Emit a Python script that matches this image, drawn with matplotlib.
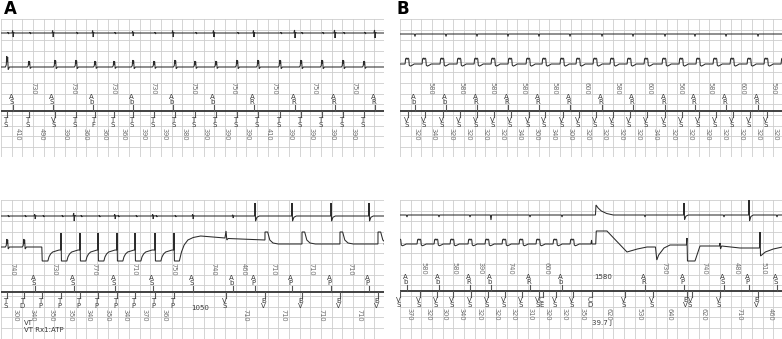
import numpy as np
import matplotlib
matplotlib.use('Agg')
import matplotlib.pyplot as plt

W, H = 782, 339
MS_PER_PX = 18.75          # paper speed of the strips
GRID_MS = 200
GRID_PX = 10.67

# ---------------- Panel A, upper strip (VT, 2:1) ----------------
a1_atrial_t = [225, 975, 1725, 2475, 3225, 3990, 4740, 5510, 6260, 7010]
a1_atrial_lab = ['AS', 'AS', 'Ab', 'Ab', 'Ab', 'Ab', 'AR', 'AR', 'AR', 'AR']
a1_atrial_int = ['730', '730', '730', '730', '750', '750', '750', '750', '750']
a1_atrial_amp = [4, 4, 4, 3, 4, 4, 4, 5, 5, 5]
a1_vent_t = [113, 525, 1013, 1406, 1763, 2119, 2475, 2869, 3263, 3638, 4031,
             4425, 4819, 5231, 5625, 6019, 6413, 6806]
a1_vent_lab = ['TS', 'TS', 'VS', 'TS', 'TF', 'TS', 'TS', 'TS', 'TS', 'TS', 'TS',
               'TS', 'TS', 'TS', 'TS', 'TS', 'TS', 'TS']
a1_vent_int = ['410', '490', '390', '360', '360', '360', '390', '390', '380',
               '390', '390', '390', '410', '390', '390', '390', '390']
a1_vent_amp = [11, 6, 7, 7, 6, 6, 7, 6, 7, 6, 6, 7, 7, 7, 7, 7, 7, 6]

# ---------------- Panel A, lower strip (ATP) ----------------
a2_atrial_t = [-200, 638, 1369, 2138, 2850, 3600, 4350, 4763, 5456, 6188, 6900]
a2_atrial_lab = ['AS', 'AS', 'AS', 'AS', 'AS', 'AS', 'Ab', 'AP', 'AP', 'AP', 'AP']
a2_atrial_int = ['740', '730', '770', '710', '750', '740', '460', '710', '710', '710']
a2_atrial_amp = [3, 3, 5, 3, 3, 3, 2, 13, 13, 13, 13]
a2_vent_t = [113, 431, 769, 1125, 1481, 1819, 2175, 2513, 2888, 3244,
             4219, 4950, 5644, 6356, 7069]
a2_vent_lab = ['TS', 'TD', 'TP', 'TP', 'TP', 'TP', 'TP', 'TP', 'TP', 'TP',
               'VS', 'BV', 'BV', 'BV', 'BV']
a2_vent_int = ['300', '340', '350', '350', '340', '350', '340', '370', '360',
               '1050', '710', '710', '710', '710']

# ---------------- Panel B, upper strip ----------------
b1_atrial_t = [281, 863, 1444, 2025, 2606, 3188, 3788, 4369, 4969, 5531, 6113,
               6713, 7300]
b1_atrial_lab = ['Ab', 'Ab', 'AR', 'AR', 'AR', 'AR', 'AR', 'AR', 'AR', 'AR', 'AR',
                 'AR', 'AR']
b1_atrial_int = ['580', '580', '580', '580', '580', '600', '580', '600', '560',
                 '580', '600', '590']
b1_vent_t = [150, 469, 806, 1125, 1444, 1763, 2081, 2419, 2719, 3056, 3356, 3675,
             3994, 4313, 4631, 4969, 5288, 5606, 5925, 6244, 6563, 6881, 7200]
b1_vent_lab = ['VS'] * 23
b1_vent_int = ['320', '340', '320', '320', '320', '320', '340', '300', '340', '300',
               '320', '320', '320', '320', '340', '320', '320', '320', '320', '320',
               '320', '320']

# ---------------- Panel B, lower strip (shock) ----------------
b2_atrial_t = [131, 731, 1313, 1706, 2438, 3038, 4594, 5325, 6075, 6544, 7069]
b2_atrial_lab = ['Ab', 'Ab', 'AR', 'Ab', 'AR', 'Ab', 'AR', 'AP', 'AS', 'AP', 'AS']
b2_atrial_int = ['580', '580', '390', '740', '600', '1580', '730', '740', '480', '510']
b2_atrial_amp = [2, 2, 2, 5, 2, 2, 2, 12, 2, 15, 2]
b2_vent_t = [0, 375, 694, 994, 1331, 1650, 1969, 2288, 2606, 2925, 3244, 3600,
             4219, 4744, 5381, 6000, 6713, 7200]
b2_vent_lab = ['VS', 'VS', 'VS', 'VS', 'VS', 'VS', 'VS', 'VS', 'VS', 'VS', 'VS',
               'CD', 'VS', 'VS', 'BV', 'VS', 'BV', 'VS']
b2_vent_int = ['370', '320', '300', '340', '320', '320', '320', '310', '320', '320',
               '350', '620', '530', '640', '620', '710', '460']
b2_extra_t = [2680, 5470]
b2_extra_lab = ['CE', 'VS']
# post-shock ventricular electrogram (time ms, level)
b2_post_t = [3670, 3680, 3880, 4256, 4450, 4631, 4790, 4800, 4815, 4850, 4950, 5063,
             5370, 5381, 5390, 5531, 5625, 5900, 5990, 6000, 6010, 6030, 6375, 6740,
             6750, 6760, 6850, 7000, 7170]
b2_post_y = [244, 231, 231, 252, 249, 247, 247, 252, 260, 255, 248, 245,
             245, 238, 261, 261, 246, 246, 246, 243, 249, 246, 248, 248,
             232, 256, 252, 249, 247]

# ---------------- styling ----------------
GRID_C = '#cdcdcd'
TRACE_C = '#2b2b2b'
MK_C = '#3a3a3a'
INT_C = '#707070'

# waveform templates (dt ms, relative deflection; negative = upward)
SPIKE_V = [(-30, 0), (-14, -0.2), (-6, -1.0), (4, -0.45), (12, -0.9), (22, 0.25), (45, 0)]
ATRIAL = [(-18, 0), (-6, -0.6), (4, 1.0), (14, -0.15), (30, 0)]
SMALL = [(-12, 0), (0, -0.5), (8, 0.6), (20, 0)]
DIP = [(-12, 0), (0, 1.0), (12, 0)]
BOX = [(-55, 0), (-45, -0.85), (-30, -1.0), (-16, -0.75), (-2, -1.0), (14, -0.85),
       (24, 0.2), (45, 0.35), (80, 0.2), (115, 0)]
AP_SPIKE = [(-6, 0), (0, -1.0), (10, 0.4), (35, 0.1), (80, 0)]

fig = plt.figure(figsize=(W / 100, H / 100), dpi=100)


def make_axes(x0, x1, y0, y1):
    ax = fig.add_axes([x0 / W, 1 - y1 / H, (x1 - x0) / W, (y1 - y0) / H])
    tmax = (x1 - x0) * MS_PER_PX
    ax.set_xlim(0, tmax)
    ax.set_ylim(y1, y0)
    ax.axis('off')
    for t in np.arange(0, tmax + 1, GRID_MS):
        ax.axvline(t, color=GRID_C, lw=0.6, zorder=0)
    for y in np.arange(y0, y1 + 0.5, GRID_PX):
        ax.axhline(y, color=GRID_C, lw=0.6, zorder=0)
    return ax, tmax


def build_trace(base, tmax, events):
    pts = [(-100, base), (tmax + 100, base)]
    for t0, tpl, amp in events:
        for dt, dy in tpl:
            pts.append((t0 + dt, base + amp * dy))
    pts.sort()
    return [p[0] for p in pts], [p[1] for p in pts]


def plot_trace(ax, xs, ys):
    ax.plot(xs, ys, color=TRACE_C, lw=0.75, zorder=3, solid_joinstyle='miter')


def draw_line(ax, y, tmax):
    ax.plot([0, tmax], [y, y], color='#333333', lw=1.3, zorder=3)


def draw_markers(ax, times, labels, line_y, above, tmax):
    off = 1.6 * MS_PER_PX
    for t, lab in zip(times, labels):
        if t < 0 or t > tmax:
            continue
        kw = dict(fontsize=5.0, color=MK_C, ha='center', va='center', zorder=4)
        if above:
            ax.plot([t, t], [line_y - 6, line_y], color='#555555', lw=0.8, zorder=3)
            ax.text(t - off, line_y - 14, lab[0], **kw)
            ax.text(t - off, line_y - 8.6, lab[1], **kw)
        else:
            ax.plot([t, t], [line_y, line_y + 6], color='#555555', lw=0.8, zorder=3)
            ax.text(t - off, line_y + 8.8, lab[0], **kw)
            ax.text(t - off, line_y + 14.2, lab[1], **kw)


def draw_intervals(ax, times, labels, line_y, above, tmax):
    for i, lab in enumerate(labels):
        tm = 0.5 * (times[i] + times[i + 1])
        if tm < 0 or tm > tmax:
            continue
        if len(lab) > 3:
            y = line_y - 14 if above else line_y + 16
            ax.text(tm, y, lab, fontsize=5.0, color=MK_C, ha='center', va='center')
        else:
            y = line_y - 23 if above else line_y + 23
            ax.text(tm, y, lab, fontsize=4.8, color=INT_C, ha='center', va='center',
                    rotation=270)


# ===================== Panel A upper =====================
ax, tmax = make_axes(1, 384, 19, 157)
ev = [(t, ATRIAL, a) for t, a in zip(a1_atrial_t, a1_atrial_amp)]
ev += [(t + 20, SMALL, 1.5) for t in a1_vent_t if all(abs(t - s) > 80 for s in a1_atrial_t)]
plot_trace(ax, *build_trace(33, tmax, ev))
ev = [(t, SPIKE_V, a) for t, a in zip(a1_vent_t, a1_vent_amp)]
plot_trace(ax, *build_trace(67, tmax, ev))
draw_line(ax, 111, tmax)
draw_markers(ax, a1_atrial_t, a1_atrial_lab, 111, True, tmax)
draw_intervals(ax, a1_atrial_t, a1_atrial_int, 111, True, tmax)
draw_markers(ax, a1_vent_t, a1_vent_lab, 111, False, tmax)
draw_intervals(ax, a1_vent_t, a1_vent_int, 111, False, tmax)

# ===================== Panel A lower =====================
ax, tmax = make_axes(1, 384, 200, 339)
ev = []
for t, a, lab in zip(a2_atrial_t, a2_atrial_amp, a2_atrial_lab):
    ev.append((t, AP_SPIKE if lab == 'AP' else ATRIAL, a))
ev += [(t + 25, SMALL, 1.5) for t in a2_vent_t[:10]]
plot_trace(ax, *build_trace(216, tmax, ev))

# ventricular channel: sensed VT, ATP pulses, recovery, paced rhythm
xs, ys = [0], [247]
for t in a2_vent_t[:2]:
    for dt, dy in SPIKE_V:
        xs.append(t + dt); ys.append(247 + 8 * dy)
pace = [t for t, lab in zip(a2_vent_t, a2_vent_lab) if lab == 'TP']
for i, tp in enumerate(pace):
    if i == 0:
        xs += [tp - 4, tp + 4]; ys += [247, 261]
    else:
        xs += [tp - 4, tp, tp + 8]; ys += [250, 233, 261]
    if i < len(pace) - 1:
        xs += [tp + 110, tp + 130, tp + 160, tp + 200, tp + 260, tp + 320]
        ys += [261, 257, 254, 252, 251, 250]
    else:
        xs += [tp + 100, tp + 140, tp + 190, tp + 260, tp + 360, tp + 500]
        ys += [261, 252, 245, 240, 237.5, 236]
vs = a2_vent_t[10]
xs += [vs - 20, vs, vs + 15, vs + 40]; ys += [238, 231, 240, 238.5]
bv = [t for t, lab in zip(a2_vent_t, a2_vent_lab) if lab == 'BV']
prev = 240
for tp in bv:
    xs += [tp - 1, tp, tp + 50, tp + 90, tp + 150, tp + 250]
    ys += [prev, 232, 232, 240, 243, 244]
    prev = 244
xs.append(tmax); ys.append(244)
plot_trace(ax, xs, ys)

draw_line(ax, 292, tmax)
draw_markers(ax, a2_atrial_t, a2_atrial_lab, 292, True, tmax)
draw_intervals(ax, a2_atrial_t, a2_atrial_int, 292, True, tmax)
draw_markers(ax, a2_vent_t, a2_vent_lab, 292, False, tmax)
draw_intervals(ax, a2_vent_t, a2_vent_int, 292, False, tmax)
ax.text(23 * MS_PER_PX, 323, 'VT', fontsize=5.0, color=MK_C, ha='left', va='center')
ax.text(23 * MS_PER_PX, 330, 'VT Rx1:ATP', fontsize=5.0, color=MK_C, ha='left', va='center')

# ===================== Panel B upper =====================
ax, tmax = make_axes(400, 782, 19, 157)
ev = [(t, DIP, 2.5) for t in b1_atrial_t]
plot_trace(ax, *build_trace(34, tmax, ev))
ev = [(t, BOX, 6) for t in b1_vent_t]
plot_trace(ax, *build_trace(64, tmax, ev))
draw_line(ax, 111, tmax)
draw_markers(ax, b1_atrial_t, b1_atrial_lab, 111, True, tmax)
draw_intervals(ax, b1_atrial_t, b1_atrial_int, 111, True, tmax)
draw_markers(ax, b1_vent_t, b1_vent_lab, 111, False, tmax)
draw_intervals(ax, b1_vent_t, b1_vent_int, 111, False, tmax)

# ===================== Panel B lower =====================
ax, tmax = make_axes(400, 782, 200, 339)
ev = []
for t, a, lab in zip(b2_atrial_t, b2_atrial_amp, b2_atrial_lab):
    ev.append((t, AP_SPIKE if lab == 'AP' else DIP, a))
pre_x, pre_y = build_trace(215, tmax, ev)
shock_t = b2_post_t[0]
sx = [shock_t - 5, shock_t + 5, shock_t + 45, shock_t + 105, shock_t + 205, shock_t + 330]
sy = [215, 205, 208, 211, 213.5, 215]
allp = sorted([p for p in zip(pre_x, pre_y) if not (shock_t - 5 <= p[0] <= shock_t + 330)]
              + list(zip(sx, sy)))
plot_trace(ax, [p[0] for p in allp], [p[1] for p in allp])

ev = [(t, BOX, 5) for t, lab in zip(b2_vent_t, b2_vent_lab) if t < 3500]
px_, py_ = build_trace(244, 3500, ev)
cd = b2_vent_t[b2_vent_lab.index('CD')]
bx = [x for x in px_ if x <= 3500] + [cd - 20, cd - 8, cd] + b2_post_t + [tmax + 50]
by = [y for x, y in zip(px_, py_) if x <= 3500] + [244, 240, 244] + b2_post_y + [247]
plot_trace(ax, bx, by)

draw_line(ax, 291, tmax)
draw_markers(ax, b2_atrial_t, b2_atrial_lab, 291, True, tmax)
draw_intervals(ax, b2_atrial_t, b2_atrial_int, 291, True, tmax)
draw_markers(ax, b2_vent_t, b2_vent_lab, 291, False, tmax)
draw_intervals(ax, b2_vent_t, b2_vent_int, 291, False, tmax)
draw_markers(ax, b2_extra_t, b2_extra_lab, 291, False, tmax)
ax.text(cd - 0.5 * MS_PER_PX, 323, '39.7 J', fontsize=5.0, color=MK_C, ha='left', va='center')

# panel letters
fig.text(4 / W, 1 - 9 / H, 'A', fontsize=12, fontweight='bold', ha='left', va='center')
fig.text(397 / W, 1 - 9 / H, 'B', fontsize=12, fontweight='bold', ha='left', va='center')

fig.savefig('out.png', dpi=100)
